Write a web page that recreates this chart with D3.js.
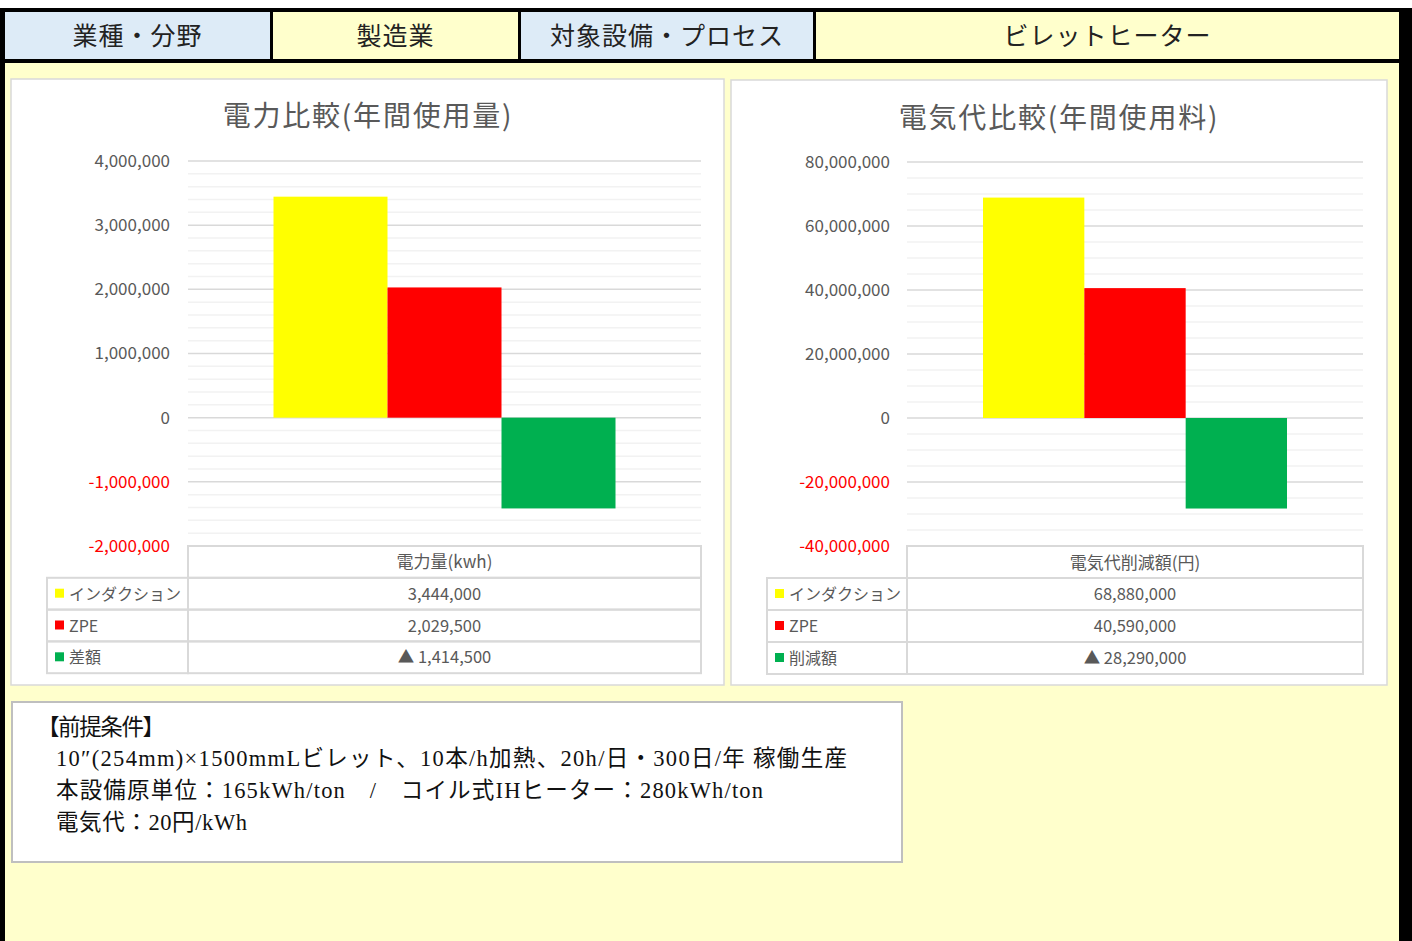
<!DOCTYPE html>
<html><head><meta charset="utf-8">
<script src="https://cdn.jsdelivr.net/npm/d3@7"></script>
<style>
body{margin:0;background:#fff}
svg{display:block}
text{font-family:"Noto Sans CJK JP","Noto Sans",sans-serif}
.serif{font-family:"Liberation Serif","Noto Sans CJK JP",serif}
</style>
</head><body><svg id="c" width="1412" height="941"></svg>
<script>
// ---------- data ----------
const headerLabels = ["業種・分野", "製造業", "対象設備・プロセス", "ビレットヒーター"];
const chartTitles = ["電力比較(年間使用量)", "電気代比較(年間使用料)"];
const tableHeaders = ["電力量(kwh)", "電気代削減額(円)"];
const seriesPower = ["インダクション", "ZPE", "差額"];
const valuesPower = [3444000, 2029500, -1414500];
const seriesCost = ["インダクション", "ZPE", "削減額"];
const valuesCost = [68880000, 40590000, -28290000];
const seriesColors = ["#FFFF00", "#FF0000", "#00B050"];
const ticksPower = [4000000, 3000000, 2000000, 1000000, 0, -1000000, -2000000];
const ticksCost = [80000000, 60000000, 40000000, 20000000, 0, -20000000, -40000000];
const noteLines = [
  "【前提条件】",
  "10″(254mm)×1500mmLビレット、10本/h加熱、20h/日・300日/年 稼働生産",
  "本設備原単位：165kWh/ton　/　コイル式IHヒーター：280kWh/ton",
  "電気代：20円/kWh"
];

// ---------- frame ----------
const svg = d3.select("#c");
svg.append("rect").attr("x",0).attr("y",0).attr("width",1412).attr("height",941).attr("fill","#fff");
svg.append("rect").attr("x",0).attr("y",8).attr("width",1412).attr("height",933).attr("fill","#000");
svg.append("rect").attr("x",5).attr("y",63).attr("width",1394).attr("height",878).attr("fill","#FFFFCC");

const headerCells = [[5,270,"#DDEBF7"],[273,518,"#FFFFCC"],[521,813,"#DDEBF7"],[816,1399,"#FFFFCC"]];
headerCells.forEach((c,i)=>{
  svg.append("rect").attr("x",c[0]).attr("y",12).attr("width",c[1]-c[0]).attr("height",47).attr("fill",c[2]);
  svg.append("text").attr("class","serif").attr("x",(c[0]+c[1])/2).attr("y",36)
    .attr("text-anchor","middle").attr("dominant-baseline","central")
    .attr("font-size",25).attr("letter-spacing",1).attr("fill","#222").text(headerLabels[i]);
});

// ---------- charts ----------
const fmt = d3.format(",");
const tickFmt = v => fmt(v).replace("−", "-");
function drawChart(cfg, series, values, ticks, title, tableHeader){
  const g = svg.append("g");
  g.append("rect").attr("x",cfg.px).attr("y",cfg.py).attr("width",cfg.pw).attr("height",cfg.ph)
    .attr("fill","#fff").attr("stroke","#D9D9D9").attr("stroke-width",1.5);
  g.append("text").attr("x",cfg.titleX).attr("y",cfg.titleY).attr("text-anchor","middle")
    .attr("dominant-baseline","central").attr("font-size",28).attr("letter-spacing",1.8)
    .attr("fill","#595959").text(title);

  const y = d3.scaleLinear().domain([d3.min(ticks), d3.max(ticks)]).range([cfg.bottom, cfg.top]);
  const x = d3.scaleBand().domain(series).range([cfg.left, cfg.right]).paddingInner(0).paddingOuter(0.75);

  // minor gridlines
  const minor = y.ticks(30).filter(v => !ticks.includes(v));
  g.append("g").selectAll("line").data(minor).join("line")
    .attr("x1",cfg.left).attr("x2",cfg.right).attr("y1",d=>y(d)).attr("y2",d=>y(d))
    .attr("stroke","#F2F2F2").attr("stroke-width",1.5);
  // major gridlines
  g.append("g").selectAll("line").data(ticks.filter(v=>v!==d3.min(ticks))).join("line")
    .attr("x1",cfg.left).attr("x2",cfg.right).attr("y1",d=>y(d)).attr("y2",d=>y(d))
    .attr("stroke","#D9D9D9").attr("stroke-width",1.5);

  // y axis
  const ax = g.append("g").attr("transform",`translate(${cfg.left},0)`)
    .call(d3.axisLeft(y).tickValues(ticks).tickSize(0).tickPadding(cfg.left-cfg.labelX).tickFormat(tickFmt));
  ax.select(".domain").remove();
  ax.selectAll("text").attr("font-size",17).style("font-family",'"Noto Sans CJK JP",sans-serif')
    .attr("fill",d=> d<0 ? "#FF0000" : "#595959");

  // bars
  g.append("g").selectAll("rect").data(series.map((s,i)=>({s, v:values[i], c:seriesColors[i]}))).join("rect")
    .attr("x",d=>x(d.s)).attr("width",x.bandwidth())
    .attr("y",d=>y(Math.max(0,d.v))).attr("height",d=>Math.abs(y(d.v)-y(0)))
    .attr("fill",d=>d.c);

  // data table
  const t0 = cfg.bottom, rh = cfg.rowH, lc = cfg.legendX;
  const tb = g.append("g").attr("fill","none").attr("stroke","#D9D9D9").attr("stroke-width",2);
  tb.append("rect").attr("x",cfg.left).attr("y",t0).attr("width",cfg.right-cfg.left).attr("height",rh);
  series.forEach((s,i)=>{
    tb.append("rect").attr("x",lc).attr("y",t0+rh*(i+1)).attr("width",cfg.left-lc).attr("height",rh);
    tb.append("rect").attr("x",cfg.left).attr("y",t0+rh*(i+1)).attr("width",cfg.right-cfg.left).attr("height",rh);
  });
  g.append("text").attr("x",(cfg.left+cfg.right)/2).attr("y",t0+rh/2-1).attr("text-anchor","middle")
    .attr("dominant-baseline","central").attr("font-size",17).attr("fill","#595959").text(tableHeader);
  series.forEach((s,i)=>{
    const cy = t0+rh*(i+1)+rh/2-1;
    g.append("rect").attr("x",lc+8).attr("y",cy-4).attr("width",9).attr("height",9).attr("fill",seriesColors[i]);
    g.append("text").attr("x",lc+22).attr("y",cy).attr("dominant-baseline","central")
      .attr("font-size",16).attr("fill","#595959").text(s);
    const v = values[i];
    g.append("text").attr("x",(cfg.left+cfg.right)/2).attr("y",cy).attr("text-anchor","middle")
      .attr("dominant-baseline","central").attr("font-size",16.5).attr("fill","#595959")
      .text(v<0 ? "▲ " + fmt(-v) : fmt(v));
  });
}

drawChart({px:11,py:79,pw:713,ph:606,titleX:368,titleY:114,left:188,right:701,top:161,bottom:546,labelX:170,legendX:47,rowH:31.8},
  seriesPower, valuesPower, ticksPower, chartTitles[0], tableHeaders[0]);
drawChart({px:731,py:80,pw:656,ph:605,titleX:1059,titleY:116,left:907,right:1363,top:162,bottom:546,labelX:890,legendX:767,rowH:32},
  seriesCost, valuesCost, ticksCost, chartTitles[1], tableHeaders[1]);

// ---------- note box ----------
svg.append("rect").attr("x",12).attr("y",702).attr("width",890).attr("height",160)
  .attr("fill","#fff").attr("stroke","#BFBFBF").attr("stroke-width",2);
const noteX = [37,56,56,56], noteY = [727,758,790,822], noteW = [128,791,707,191];
noteLines.forEach((l,i)=>{
  svg.append("text").attr("class","serif").attr("x",noteX[i]).attr("y",noteY[i])
    .attr("dominant-baseline","central").attr("font-size",22.5).attr("fill","#111")
    .attr("textLength",noteW[i]).attr("lengthAdjust","spacing")
    .style("white-space","pre").text(l);
});
</script>
</body></html>
